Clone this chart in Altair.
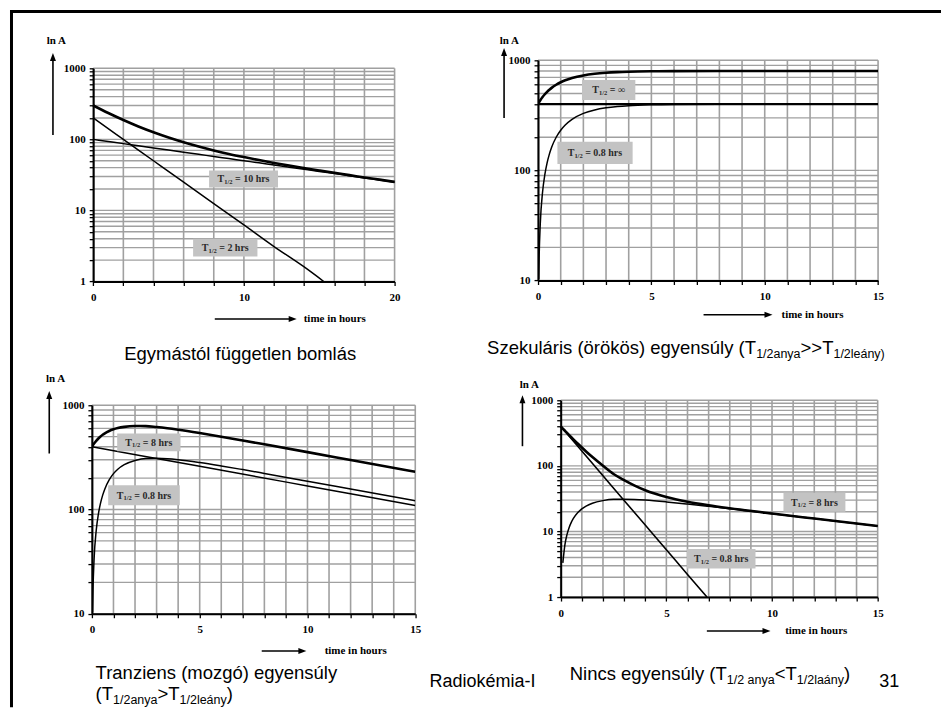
import altair as alt
import pandas as pd

SERIF = "Liberation Serif"
SANS = "Liberation Sans"
GRID = "#a0a0a0"
BOX = "#c3c3c3"

# ---------------- data ----------------
# Panel 1: independent decay (T1/2 = 10 h and 2 h) and their sum
P1_T = [0, 1, 2, 3, 4, 5, 6, 7, 8, 9, 10, 11, 12, 13, 14, 15, 16, 17, 18, 19, 20]
P1_A_10H = [100, 93.3, 87.1, 81.2, 75.8, 70.7, 66.0, 61.6, 57.4, 53.6, 50.0,
            46.7, 43.5, 40.6, 37.9, 35.4, 33.0, 30.8, 28.7, 26.8, 25.0]
P1_T_2H = [0, 2, 4, 6, 8, 10, 12, 14, 15.3]
P1_A_2H = [200, 100, 50, 25, 12.5, 6.25, 3.1, 1.6, 1.0]
P1_A_SUM = [300, 234.7, 187.1, 151.9, 125.8, 106.1, 91.0, 79.3, 69.9, 62.4, 56.3,
            51.1, 46.6, 42.8, 39.5, 36.5, 33.8, 31.4, 29.1, 27.1, 25.2]

# Panel 2: secular equilibrium
P2_T_PARENT = [0, 15]
P2_A_PARENT = [400, 400]
P2_T_D = [0.03, 0.05, 0.1, 0.2, 0.3, 0.4, 0.5, 0.6, 0.8, 1.0, 1.2, 1.5, 2.0, 2.5,
          3.0, 3.5, 4.0, 5, 6, 8, 10, 15]
P2_A_D = [10.3, 16.9, 33.2, 63.6, 91.6, 117.2, 140.6, 162.2, 200, 231.8, 258.6,
          291.0, 329.3, 354.2, 370.3, 380.7, 387.5, 394.7, 397.8, 399.6, 399.9, 400]
P2_T_SUM = [0, 0.03, 0.05, 0.1, 0.2, 0.3, 0.4, 0.5, 0.6, 0.8, 1.0, 1.2, 1.5, 2.0,
            2.5, 3.0, 3.5, 4.0, 5, 6, 8, 10, 15]
P2_A_SUM = [400, 410.3, 416.9, 433.2, 463.6, 491.6, 517.2, 540.6, 562.2, 600,
            631.8, 658.6, 691.0, 729.3, 754.2, 770.3, 780.7, 787.5, 794.7, 797.8,
            799.6, 799.9, 800]

# Panel 3: transient equilibrium
P3_T_PARENT = [0, 5, 10, 15]
P3_A_PARENT = [400, 259.4, 168.2, 109.1]
P3_T_D = [0.03, 0.05, 0.1, 0.2, 0.3, 0.4, 0.5, 0.6, 0.8, 1.0, 1.2, 1.5, 2.0, 2.5,
          3.0, 3.5, 4.0, 5, 6, 7, 8, 10, 12, 15]
P3_A_D = [10.3, 16.9, 33.1, 63.1, 90.3, 115.0, 137.4, 157.6, 192.4, 220.7, 243.4,
          269.1, 295.1, 308.7, 309.6, 306.7, 300.4, 282.3, 261.8, 241.3, 221.8,
          186.8, 157.1, 121.2]
P3_T_SUM = [0, 0.03, 0.05, 0.1, 0.2, 0.3, 0.4, 0.5, 0.6, 0.8, 1.0, 1.2, 1.5, 2.0,
            2.5, 3.0, 3.5, 4.0, 5, 6, 7, 8, 10, 12, 15]
P3_A_SUM = [400, 409.2, 415.2, 429.6, 456.2, 480.0, 501.4, 520.4, 537.3, 565.6,
            587.5, 603.9, 620.4, 631.5, 630.8, 618.0, 602.1, 583.2, 541.7, 499.6,
            459.4, 421.8, 355.0, 298.5, 230.3]

# Panel 4: no equilibrium
P4_T_PARENT = [0, 1, 2, 3, 4, 5, 6, 6.92]
P4_A_PARENT = [400, 168.2, 70.7, 29.7, 12.5, 5.26, 2.21, 1.0]
P4_T_D = [0.1, 0.2, 0.3, 0.4, 0.5, 0.6, 0.8, 1.0, 1.2, 1.5, 2.0, 2.5, 3.0, 3.5,
          4.0, 5, 6, 7, 8, 10, 12, 15]
P4_A_D = [3.31, 6.31, 9.03, 11.5, 13.74, 15.76, 19.24, 22.07, 24.34, 26.91, 29.51,
          30.87, 30.96, 30.67, 30.04, 28.23, 26.18, 24.13, 22.18, 18.68, 15.71, 12.12]
P4_T_SUM = [0, 0.1, 0.2, 0.3, 0.4, 0.5, 0.6, 0.8, 1.0, 1.2, 1.5, 2.0, 2.5, 3.0,
            3.5, 4.0, 5, 6, 7, 8, 10, 12, 15]
P4_A_SUM = [400, 370.1, 342.7, 317.4, 294.3, 273.1, 253.6, 219.2, 190.3, 165.7,
            136.0, 100.2, 75.1, 60.7, 50.0, 42.5, 33.5, 28.4, 25.1, 22.6, 18.75,
            15.72, 12.12]

# ticks
X_TICKS_20 = [0, 2, 4, 6, 8, 10, 12, 14, 16, 18, 20]
X_TICKS_15 = [0, 1, 2, 3, 4, 5, 6, 7, 8, 9, 10, 11, 12, 13, 14, 15]
Y_TICKS_1 = [1, 2, 3, 4, 5, 6, 7, 8, 9, 10, 20, 30, 40, 50, 60, 70, 80, 90,
             100, 200, 300, 400, 500, 600, 700, 800, 900, 1000]
Y_TICKS_10 = [10, 20, 30, 40, 50, 60, 70, 80, 90,
              100, 200, 300, 400, 500, 600, 700, 800, 900, 1000]

# texts
Y_TITLE = "ln A"
X_TITLE = "time in hours"
CAP1 = "Egymástól független bomlás"
CAP2 = [("Szekuláris (örökös) egyensúly (T", 0), ("1/2anya", 1), (">>T", 0), ("1/2leány)", 1)]
CAP3_L1 = "Tranziens (mozgó) egyensúly"
CAP3_L2 = [("(T", 0), ("1/2anya", 1), (">T", 0), ("1/2leány", 1), (")", 0)]
CAP4 = [("Nincs egyensúly (T", 0), ("1/2 anya", 1), ("<T", 0), ("1/2laány", 1), (")", 0)]
FOOTER = "Radiokémia-I"
PAGE_NO = "31"

# ---------------- helpers ----------------
AR_W = {' ': 278, '(': 333, ')': 333, '/': 278, '1': 556, '2': 556, '3': 556, '<': 584,
        '>': 584, 'T': 611, 'S': 667, 'N': 722, 'a': 556, 'á': 556, 'c': 500, 'e': 556,
        'é': 556, 'g': 556, 'i': 222, 'k': 500, 'l': 222, 'm': 833, 'n': 556, 'o': 556,
        'ö': 556, 'r': 333, 's': 500, 'u': 556, 'ú': 556, 'y': 500, 'z': 500}
TB_W = {'T': 667, '1': 500, '/': 278, '2': 500, ' ': 250, '=': 570, '0': 500, '8': 500,
        '.': 250, 'h': 556, 'r': 444, 's': 389, '∞': 713}


def tw(s, size, table):
    return sum(table.get(c, 500) for c in s) * size / 1000.0


ONE = pd.DataFrame({"k": [0]})


def txt(o, px, py, s, size, font=SERIF, weight="bold", align="left",
        baseline="alphabetic", color="black"):
    return alt.Chart(ONE).mark_text(
        text=s, fontSize=size, font=font, fontWeight=weight, align=align,
        baseline=baseline, color=color
    ).encode(x=alt.value(px - o[0]), y=alt.value(py - o[1]))


def seg(o, x1, y1, x2, y2, w=1.6, color="black"):
    return alt.Chart(ONE).mark_rule(strokeWidth=w, color=color).encode(
        x=alt.value(x1 - o[0]), y=alt.value(y1 - o[1]),
        x2=alt.value(x2 - o[0]), y2=alt.value(y2 - o[1]))


def head(o, px, py, shape, size=64):
    return alt.Chart(ONE).mark_point(
        shape=shape, size=size, filled=True, color="black", opacity=1, strokeWidth=0
    ).encode(x=alt.value(px - o[0]), y=alt.value(py - o[1]))


UP = "M0,-1L0.75,1L-0.75,1Z"
RIGHT = "M1,0L-1,-0.75L-1,0.75Z"


def axis_deco(o, lnx, lny, ax, atop, abot, hy, hx1, hx2, tx):
    return [
        txt(o, lnx, lny, Y_TITLE, 11),
        seg(o, ax, atop + 6, ax, abot),
        head(o, ax, atop + 4, UP),
        seg(o, hx1, hy, hx2 - 6, hy),
        head(o, hx2 - 4, hy, RIGHT),
        txt(o, tx, hy, X_TITLE, 11, baseline="middle"),
    ]


def tlabel(o, box, cx, cy, rest):
    x1, y1, x2, y2 = box
    rect = alt.Chart(ONE).mark_rect(color=BOX).encode(
        x=alt.value(x1 - o[0]), x2=alt.value(x2 - o[0]),
        y=alt.value(y1 - o[1]), y2=alt.value(y2 - o[1]))
    wT, wS = tw("T", 10, TB_W), tw("1/2", 6.5, TB_W)
    wSp, wR = tw(" ", 10, TB_W), tw(rest, 10, TB_W)
    x0 = cx - (wT + wS + wSp + wR) / 2
    base = cy + 3.4
    return [rect,
            txt(o, x0, base, "T", 10, color="#2a2a2a"),
            txt(o, x0 + wT, base + 1.6, "1/2", 6.5, color="#2a2a2a"),
            txt(o, x0 + wT + wS + wSp, base, rest, 10, color="#2a2a2a")]


def caption_seq(o, x0, base, parts, size=18.5, sub=12.5):
    out = []
    x = x0
    for s, is_sub in parts:
        fs = sub if is_sub else size
        out.append(txt(o, x, base + (4 if is_sub else 0), s, fs, font=SANS, weight="normal"))
        x += tw(s, fs, AR_W)
    return out


def x_axis(ticks, every, offset):
    return alt.Axis(values=ticks, format="d", offset=offset, zindex=2,
                    labelExpr=f"datum.value % {every} == 0 ? datum.label : ''",
                    grid=False, domainColor="black", domainWidth=2,
                    tickColor="black", tickWidth=1.3, tickSize=4,
                    labelFont=SERIF, labelFontWeight="bold", labelFontSize=11,
                    labelColor="black", labelPadding=6, labelFlush=False,
                    labelOverlap=False, title=None)


def y_axis(ticks, offset):
    return alt.Axis(values=ticks, format="d", offset=offset, zindex=2,
                    labelExpr="indexof([1, 10, 100, 1000], datum.value) >= 0 ? datum.label : ''",
                    grid=False, domainColor="black", domainWidth=2,
                    tickColor="black", tickWidth=1.3, tickSize=4,
                    labelFont=SERIF, labelFontWeight="bold", labelFontSize=11,
                    labelColor="black", labelPadding=4, labelFlush=False,
                    labelOverlap=False, title=None)


def panel(w, h, xr, yr, xdom, ydom, xticks, every, yticks, series, extras):
    # xr / yr: pixel range of the plot area inside the view cell
    xs = alt.Scale(domain=xdom, range=xr, nice=False, zero=False)
    ys = alt.Scale(type="log", domain=ydom, range=yr, nice=False)
    xa = x_axis(xticks, every, -(h - yr[0]))
    ya = y_axis(yticks, -xr[0])

    def X(f):
        return alt.X(f, type="quantitative", scale=xs, axis=xa)

    def Y(f):
        return alt.Y(f, type="quantitative", scale=ys, axis=ya)

    vgrid = pd.DataFrame({"t": xticks, "a0": ydom[0], "a1": ydom[1]})
    hgrid = pd.DataFrame({"A": yticks, "t0": xdom[0], "t1": xdom[1]})
    layers = [
        alt.Chart(vgrid).mark_rule(color=GRID, strokeWidth=1.6).encode(
            x=X("t"), y=Y("a0"), y2=alt.Y2("a1")),
        alt.Chart(hgrid).mark_rule(color=GRID, strokeWidth=1.4).encode(
            y=Y("A"), x=X("t0"), x2=alt.X2("t1")),
    ]
    for ts, vals, sw in series:
        df = pd.DataFrame({"t": ts, "A": vals})
        layers.append(alt.Chart(df).mark_line(
            color="black", strokeWidth=sw, clip=True, interpolate="monotone"
        ).encode(x=X("t"), y=Y("A")))
    layers += extras
    return alt.layer(*layers).properties(width=w, height=h)


# ---------------- layout: view cells and plot areas (page pixels) ----------------
# column 0 cell x=92, column 1 cell x=538.3 ; row 0 cell y=60.3, row 1 cell y=400
C0W = 323.7
C1W = 340.4
R0H = 221.4
R1H = 213.7
COL_GAP = 538.3 - 92 - C0W
ROW_GAP = 400 - 60.3 - R0H

O1 = (92, 60.3)
O2 = (538.3, 60.3)
O3 = (92, 400)
O4 = (538.3, 400)

# slide frame (left and top border); its outer edge sets the page origin
ex1 = [seg(O1, 11.5, 10, 11.5, 708, w=3), seg(O1, 10, 11.5, 942, 11.5, w=3)]
ex1 += axis_deco(O1, 46.7, 44.3, 53, 53, 135, 319.3, 215, 297, 304)
ex1 += tlabel(O1, (209.3, 170.7, 278.3, 187.7), 243.8, 179.2, "= 10 hrs")
ex1 += tlabel(O1, (193.3, 239, 257.7, 256.7), 225.5, 247.8, "= 2 hrs")
ex1 += [txt(O1, 124.3, 360, CAP1, 18.5, font=SANS, weight="normal")]
p1 = panel(C0W, R0H, [1.3, 303], [R0H, 8], [0, 20], [1, 1000], X_TICKS_20, 10, Y_TICKS_1,
           [(P1_T, P1_A_10H, 1.5), (P1_T_2H, P1_A_2H, 1.5), (P1_T, P1_A_SUM, 2.6)], ex1)

ex2 = axis_deco(O2, 500, 44, 504.3, 48, 118, 315, 704, 773, 782)
ex2 += tlabel(O2, (582.3, 80, 635.7, 100), 609, 90, "= ∞")
ex2 += tlabel(O2, (557.7, 141.7, 633, 164), 595.3, 152.8, "= 0.8 hrs")
ex2 += caption_seq(O2, 487.3, 354, CAP2)
p2 = panel(C1W, R0H, [0, C1W], [220.4, 0], [0, 15], [10, 1000], X_TICKS_15, 5, Y_TICKS_10,
           [(P2_T_PARENT, P2_A_PARENT, 2.2), (P2_T_D, P2_A_D, 1.5), (P2_T_SUM, P2_A_SUM, 2.6)], ex2)

ex3 = axis_deco(O3, 46, 381.7, 49.3, 390.7, 453.3, 651, 262, 306.7, 325)
ex3 += tlabel(O3, (117.3, 433.3, 180.7, 451), 149, 442.2, "= 8 hrs")
ex3 += tlabel(O3, (108.3, 485, 180, 505), 144.2, 495, "= 0.8 hrs")
ex3 += [txt(O3, 95.7, 679, CAP3_L1, 18.5, font=SANS, weight="normal")]
ex3 += caption_seq(O3, 95.7, 700, CAP3_L2)
ex3 += [txt(O3, 430, 687, FOOTER, 18, font=SANS, weight="normal")]
p3 = panel(C0W, R1H, [0, C0W], [R1H, 5], [0, 15], [10, 1000], X_TICKS_15, 5, Y_TICKS_10,
           [(P3_T_PARENT, P3_A_PARENT, 1.5), (P3_T_D, P3_A_D, 1.5), (P3_T_SUM, P3_A_SUM, 2.6)], ex3)

ex4 = axis_deco(O4, 520, 387.7, 522.7, 395, 446, 631, 707.3, 771, 785.7)
ex4 += tlabel(O4, (784, 492.7, 846, 511.7), 815, 502.2, "= 8 hrs")
ex4 += tlabel(O4, (687.3, 549, 756, 568.3), 721.7, 558.7, "= 0.8 hrs")
ex4 += caption_seq(O4, 570, 680, CAP4)
ex4 += [txt(O4, 880, 687, PAGE_NO, 18, font=SANS, weight="normal")]
p4 = panel(C1W, R1H, [22.7, 340.0], [197, 0], [0, 15], [1, 1000], X_TICKS_15, 5, Y_TICKS_1,
           [(P4_T_PARENT, P4_A_PARENT, 1.6), (P4_T_D, P4_A_D, 1.5), (P4_T_SUM, P4_A_SUM, 2.6)], ex4)

chart = alt.concat(
    p1, p2, p3, p4, columns=2, bounds="flush",
    spacing={"row": ROW_GAP, "column": COL_GAP}
).properties(padding=0, background="white").configure_view(stroke=None)

chart.save("out.html", embed_options={"renderer": "svg", "actions": False})
